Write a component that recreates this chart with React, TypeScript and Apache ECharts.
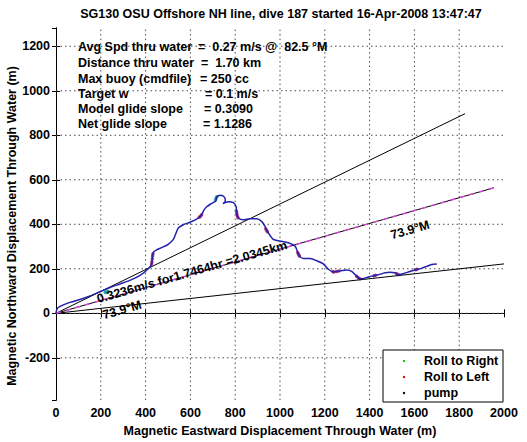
import { useEffect, useRef } from 'react';
import * as echarts from 'echarts';

const FONT = '"Liberation Sans", Arial, Helvetica, sans-serif';

const titleText = 'SG130 OSU Offshore NH line, dive 187 started 16-Apr-2008 13:47:47';
const xAxisName = 'Magnetic Eastward Displacement Through Water (m)';
const yAxisName = 'Magnetic Northward Displacement Through Water (m)';

const statLabels = [
  'Avg Spd thru water',
  'Distance thru water',
  'Max buoy (cmdfile)',
  'Target w',
  'Model glide slope',
  'Net glide slope',
];
const statValues = [
  '=  0.27 m/s @  82.5 °M',
  '=  1.70 km',
  '= 250 cc',
  '= 0.1 m/s',
  '= 0.3090',
  '= 1.1286',
];

const speedLabel = '0.3236m/s for1.7464hr =2.0345km';
const headingLabel = '73.9°M';
const legendNames = ['Roll to Right', 'Roll to Left', 'pump'];
const legendColors = ['#00c800', '#e00000', '#000000'];

// glider track through water (m)
const trackX = [0, 3, 10, 33, 62, 107, 152, 196, 241, 286, 330, 375, 412, 427, 430, 434, 449, 472, 501, 524, 536, 546, 568, 598, 635, 650, 661, 673, 695, 714, 717, 735, 752, 756, 745, 769, 792, 804, 807, 814, 836, 866, 896, 918, 933, 948, 970, 1000, 1037, 1067, 1077, 1086, 1104, 1134, 1164, 1193, 1216, 1238, 1268, 1298, 1320, 1342, 1357, 1379, 1409, 1439, 1469, 1491, 1513, 1528, 1550, 1580, 1610, 1632, 1655, 1677, 1700];
const trackY = [0, 15, 26, 38, 49, 62, 78, 97, 116, 132, 148, 170, 200, 222, 251, 273, 285, 295, 310, 332, 361, 383, 398, 409, 428, 443, 465, 479, 494, 506, 523, 531, 522, 505, 493, 501, 497, 479, 450, 428, 420, 425, 425, 413, 391, 361, 332, 325, 317, 302, 280, 258, 246, 246, 236, 222, 198, 186, 190, 195, 188, 167, 155, 158, 167, 173, 182, 185, 182, 173, 178, 188, 197, 202, 211, 219, 222];

// roll to left / roll to right sample points on the track
const rollLeftX = [427, 428, 430, 431, 433, 640, 645, 650, 806, 807, 809, 812, 936, 940, 944, 1079, 1083, 1086, 1236, 1240, 1252, 1262, 1342, 1350, 1357, 1420, 1426, 1520, 1528, 1606, 1612];
const rollLeftY = [222, 232, 245, 258, 268, 432, 436, 443, 458, 448, 438, 430, 380, 372, 366, 273, 265, 258, 188, 186, 188, 190, 167, 160, 155, 169, 171, 179, 174, 196, 198];
const rollRightX = [220, 226, 232, 712, 715, 718];
const rollRightY = [94, 96, 99, 510, 518, 524];

// reference lines from the dive start (m)
const upperLineEnd = [1826, 897];
const netLineEnd = [1955, 564];
const lowerLineEnd = [2000, 222];

const xTicks = { min: 0, max: 2000, step: 200 };
const yRange = { min: -390, max: 1282, step: 200 };
const xGridValues = [200, 400, 600, 800, 1000, 1200, 1400, 1600, 1800];
const yGridValues = [-200, 0, 200, 400, 600, 800, 1000, 1200];

function toPairs(xs: number[], ys: number[]) {
  return xs.map((x, i) => [x, ys[i]]);
}

export default function App() {
  const ref = useRef<HTMLDivElement>(null);
  useEffect(() => {
    if (!ref.current) return;
    const chart = echarts.init(ref.current, undefined, { renderer: 'svg' });

    const labelStyle = { color: '#000', fontWeight: 'bold' as const, fontSize: 12.5, fontFamily: FONT };
    const axisLine = { show: true, lineStyle: { color: '#000', width: 1 } };
    const axisTick = { show: true, inside: true, length: 4, lineStyle: { color: '#000' } };

    const graphic: any[] = [
      {
        type: 'text', x: 281, y: 14, z: 100,
        style: { text: titleText, font: `bold 12.5px ${FONT}`, fill: '#000', align: 'center', verticalAlign: 'middle' },
      },
      {
        type: 'text', x: 12, y: 226, rotation: Math.PI / 2, z: 100,
        style: { text: yAxisName, font: `bold 12.5px ${FONT}`, fill: '#000', align: 'center', verticalAlign: 'middle' },
      },
    ];
    const statY = [47, 63, 78.5, 94, 109, 123.5];
    const statValueX = [198, 201, 200, 205, 204, 203];
    statLabels.forEach((t, i) => {
      graphic.push({
        type: 'text', x: 78, y: statY[i], z: 100,
        style: { text: t, font: `bold 12.5px ${FONT}`, fill: '#000', align: 'left', verticalAlign: 'middle' },
      });
      graphic.push({
        type: 'text', x: statValueX[i], y: statY[i], z: 100,
        style: { text: statValues[i], font: `bold 12.5px ${FONT}`, fill: '#000', align: 'left', verticalAlign: 'middle' },
      });
    });
    const rot = (16 * Math.PI) / 180;
    graphic.push(
      {
        type: 'text', x: 192, y: 272, rotation: rot, z: 100,
        style: { text: speedLabel, font: `bold 12.5px ${FONT}`, fill: '#000', align: 'center', verticalAlign: 'middle' },
      },
      {
        type: 'text', x: 122, y: 310, rotation: rot, z: 100,
        style: { text: headingLabel, font: `bold 12.5px ${FONT}`, fill: '#000', align: 'center', verticalAlign: 'middle' },
      },
      {
        type: 'text', x: 410, y: 230, rotation: rot, z: 100,
        style: { text: headingLabel, font: `bold 12.5px ${FONT}`, fill: '#000', align: 'center', verticalAlign: 'middle' },
      },
    );
    // legend box
    const legY = [361, 377, 393];
    graphic.push({
      type: 'rect', z: 100,
      shape: { x: 383, y: 350, width: 120, height: 52 },
      style: { fill: '#fff', stroke: '#000', lineWidth: 1 },
    });
    legendNames.forEach((n, i) => {
      graphic.push({
        type: 'circle', z: 101,
        shape: { cx: 404, cy: legY[i], r: 1.2 },
        style: { fill: legendColors[i] },
      });
      graphic.push({
        type: 'text', x: 424, y: legY[i], z: 101,
        style: { text: n, font: `bold 12.5px ${FONT}`, fill: '#000', align: 'left', verticalAlign: 'middle' },
      });
    });

    const fmt = (v: number) => String(v);

    // dotted grid drawn as thin line series through the axis scales
    const gridStyle = { color: '#4a4a4a', width: 1, type: [1.5, 3] as number[] };
    const gridSeries: any[] = [
      ...xGridValues.map((v) => ({
        type: 'line', z: 1, silent: true, symbol: 'none', clip: false,
        data: [[v, yRange.min], [v, yRange.max]],
        lineStyle: gridStyle,
      })),
      ...yGridValues.map((v) => ({
        type: 'line', z: 1, silent: true, symbol: 'none', clip: false,
        data: [[xTicks.min, v], [xTicks.max, v]],
        lineStyle: gridStyle,
      })),
    ];

    chart.setOption({
      animation: false,
      backgroundColor: '#fff',
      textStyle: { fontFamily: FONT },
      grid: { left: 56, top: 28, width: 448, height: 379, containLabel: false },
      xAxis: [
        {
          type: 'value', position: 'bottom', min: xTicks.min, max: xTicks.max, interval: xTicks.step,
          axisLine, axisTick, splitLine: { show: false },
          axisLabel: { ...labelStyle, margin: 6, formatter: fmt },
          name: xAxisName, nameLocation: 'middle', nameGap: 20,
          nameTextStyle: { ...labelStyle },
        },
        {
          type: 'value', position: 'top', min: xTicks.min, max: xTicks.max, interval: xTicks.step,
          axisLine, axisTick, splitLine: { show: false }, axisLabel: { show: false },
        },
      ],
      yAxis: [
        {
          type: 'value', position: 'left', min: yRange.min, max: yRange.max,
          splitNumber: 8, minInterval: yRange.step, maxInterval: yRange.step,
          axisLine, axisTick, splitLine: { show: false },
          axisLabel: { ...labelStyle, margin: 6, showMinLabel: false, showMaxLabel: false, formatter: fmt },
        },
        {
          type: 'value', position: 'right', min: yRange.min, max: yRange.max,
          splitNumber: 8, minInterval: yRange.step, maxInterval: yRange.step,
          axisLine, axisTick, splitLine: { show: false }, axisLabel: { show: false },
        },
      ],
      series: [
        ...gridSeries,
        {
          type: 'line', data: [[0, 0], lowerLineEnd], symbol: 'none', silent: true,
          lineStyle: { color: '#000', width: 1 },
        },
        {
          type: 'line', data: [[0, 0], upperLineEnd], symbol: 'none', silent: true,
          lineStyle: { color: '#000', width: 1 },
        },
        {
          type: 'line', data: [[0, 0], netLineEnd], symbol: 'none', silent: true,
          lineStyle: { color: '#000', width: 1 },
        },
        {
          type: 'line', data: [[0, 0], netLineEnd], symbol: 'none', silent: true,
          lineStyle: { color: '#d846d8', width: 1.5, type: [5, 5] },
        },
        {
          name: 'track', type: 'line', data: toPairs(trackX, trackY), symbol: 'none', smooth: 0.25,
          lineStyle: { color: '#2222aa', width: 1.5 },
        },
        {
          name: legendNames[1], type: 'scatter', data: toPairs(rollLeftX, rollLeftY),
          symbol: 'circle', symbolSize: 3.5, itemStyle: { color: '#b0206e', opacity: 0.85 },
        },
        {
          name: legendNames[0], type: 'scatter', data: toPairs(rollRightX, rollRightY),
          symbol: 'circle', symbolSize: 3.5, itemStyle: { color: '#109c9c', opacity: 0.85 },
        },
      ],
      graphic,
    });
    return () => chart.dispose();
  }, []);
  return <div ref={ref} style={{ width: 527, height: 442, position: 'absolute', left: 0, top: 0 }} />;
}
